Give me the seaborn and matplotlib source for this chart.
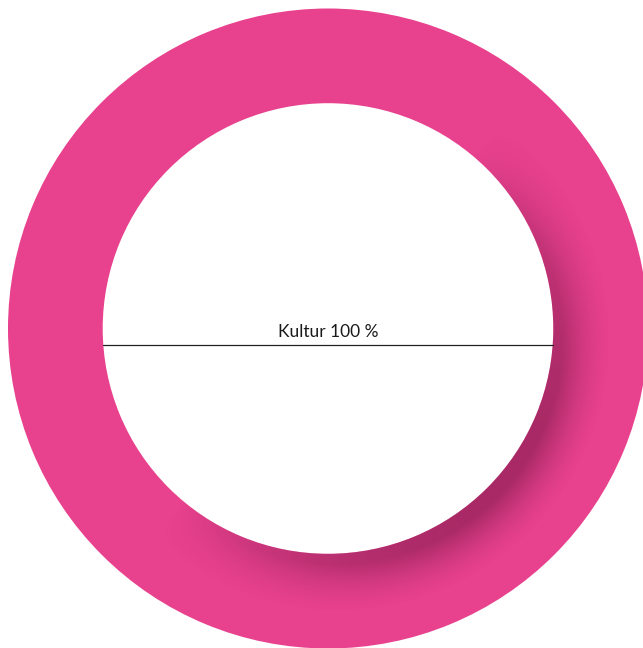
import numpy as np
import matplotlib
matplotlib.use("Agg")
import matplotlib.pyplot as plt
import seaborn as sns

# Data
categories = ["Kultur"]
values = [100]
labels = ["Kultur 100 %"]

sns.set_theme(style="white")
plt.rcParams['font.family'] = ['Lato', 'DejaVu Sans']

W, H = 643, 648
fig = plt.figure(figsize=(W / 100, H / 100), dpi=100)
ax = fig.add_axes([0, 0, 1, 1])

cx, cy = 328.0, 328.5
r_out, r_in = 320.0, 225.3
pink = "#E8418E"

wedges, _ = ax.pie(values, colors=[pink], radius=r_out, center=(cx, cy),
                   startangle=90, counterclock=False, frame=True,
                   wedgeprops=dict(width=r_out - r_in, linewidth=0))
ax.set_xlim(0, W)
ax.set_ylim(H, 0)
ax.set_aspect('equal')
ax.axis('off')

# inner shadow (style) on lower-right of inner edge
yy, xx = np.mgrid[0:H, 0:W] + 0.5
sx, sy = cx + 9, cy + 10
d = np.hypot(xx - sx, yy - sy) - r_in
alpha = np.clip(1 - d / 50.0, 0, 1) ** 1.6
alpha[d < 0] = 1.0
ang = np.arctan2(yy - cy, xx - cx)
dirw = np.clip(np.cos(ang - np.deg2rad(40)), 0, 1) ** 0.8
alpha = alpha * dirw * 0.45
rgba = np.zeros((H, W, 4))
rgba[..., 0] = 0.35
rgba[..., 1] = 0.05
rgba[..., 2] = 0.2
rgba[..., 3] = alpha
im = ax.imshow(rgba, extent=(0, W, H, 0), zorder=2, interpolation='bilinear')
im.set_clip_path(wedges[0])
ax.set_xlim(0, W)
ax.set_ylim(H, 0)

ax.plot([cx - r_in, cx + r_in], [344.5, 344.5], color="#222222", lw=0.9, zorder=3)
ax.text(328, 337, labels[0], ha='center', va='baseline', fontsize=12.5, color="#1a1a1a", zorder=4)

fig.savefig("out.png", dpi=100, facecolor="white")
